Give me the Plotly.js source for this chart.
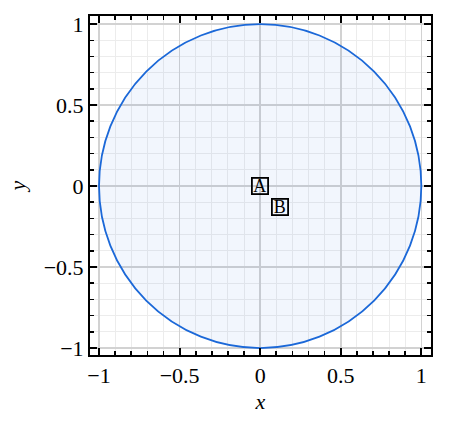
<!DOCTYPE html>
<html>
<head>
<meta charset="utf-8">
<script src="https://cdn.plot.ly/plotly-3.0.1.min.js"></script>
<style>html,body{margin:0;padding:0;background:#fff;}#chart{width:453px;height:422px;}</style>
</head>
<body>
<div id="chart"></div>
<script>
const circleCenter = [0, 0];
const circleRadius = 1;
const pointLabels = ["A", "B"];
const pointX = [0, 0.12];
const pointY = [0, -0.13];
const tickVals = [-1, -0.5, 0, 0.5, 1];
const tickText = ["\u22121", "\u22120.5", "0", "0.5", "1"];

const font = "Liberation Serif, DejaVu Serif, serif";

const axisCommon = {
  range: [-1.056, 1.06],
  tickmode: "array",
  tickvals: tickVals,
  ticktext: tickText,
  ticks: "inside",
  ticklen: 7,
  tickwidth: 2,
  tickcolor: "#000",
  showline: true,
  linewidth: 2,
  linecolor: "#000",
  mirror: "ticks",
  showgrid: true,
  gridcolor: "#d2d2d2",
  gridwidth: 1.5,
  zeroline: false,
  tickfont: {family: font, size: 22, color: "#000"},
  minor: {dtick: 0.1, tick0: 0, ticks: "inside", ticklen: 4, tickwidth: 1.6, tickcolor: "#000", showgrid: true, gridcolor: "#ececec", gridwidth: 1}
};

const layout = {
  width: 453, height: 422,
  margin: {l: 90, r: 22, t: 16, b: 67},
  paper_bgcolor: "#fff",
  plot_bgcolor: "#fff",
  showlegend: false,
  xaxis: Object.assign({}, axisCommon, {
    title: {text: "<i>x</i>", font: {family: font, size: 22, color: "#000"}, standoff: 6}
  }),
  yaxis: Object.assign({}, axisCommon, {
    range: [-1.043, 1.05],
    title: {text: "<i>y</i>", font: {family: font, size: 22, color: "#000"}, standoff: 12}
  }),
  shapes: [{
    type: "circle", xref: "x", yref: "y", layer: "between",
    x0: circleCenter[0] - circleRadius, x1: circleCenter[0] + circleRadius,
    y0: circleCenter[1] - circleRadius, y1: circleCenter[1] + circleRadius,
    line: {color: "#1b68d8", width: 1.8},
    fillcolor: "rgba(40,110,220,0.06)"
  }],
  annotations: pointLabels.map((t, i) => ({
    x: pointX[i], y: pointY[i], xref: "x", yref: "y",
    text: t, showarrow: false,
    font: {family: font, size: 18, color: "#000"},
    bordercolor: "#000", borderwidth: 1.8, borderpad: 0,
    width: 14, height: 14, align: "center", valign: "middle"
  }))
};

const trace = {
  x: pointX, y: pointY, mode: "markers", type: "scatter",
  marker: {size: 1, color: "rgba(0,0,0,0)"}, hoverinfo: "skip"
};

Plotly.newPlot("chart", [trace], layout, {staticPlot: true, displayModeBar: false});
</script>
</body>
</html>
